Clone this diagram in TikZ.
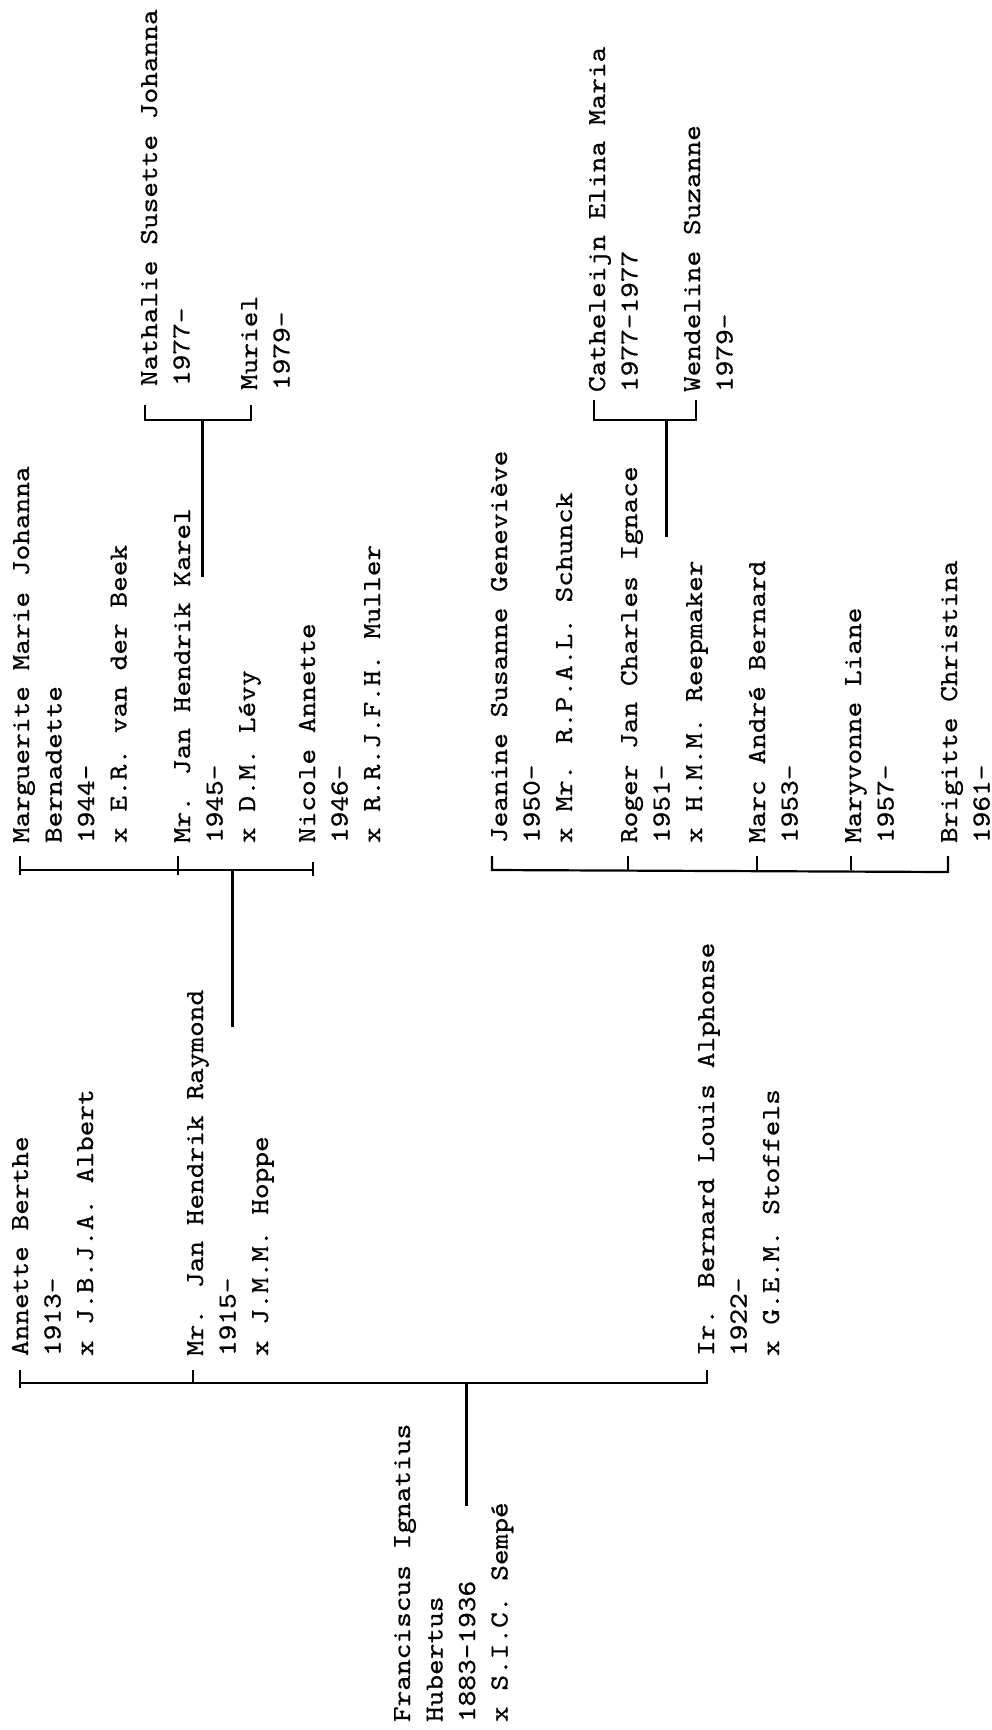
\documentclass[tikz,border=0pt]{standalone}
\usepackage{fontspec}
\newfontfamily\tw{lmmono10-regular.otf}[FakeStretch=1.15,FakeBold=0.6]
\newcommand\person[4]{%
  \foreach \t [count=\i from 0] in {#4} {\node[txt] (#1-\i) at ({#2+32.5*\i},#3) {\t};}}
\begin{document}
\begin{tikzpicture}[x=1pt,y=-1pt,
  txt/.style={rotate=90, anchor=base west, inner sep=0pt, outer sep=0pt, font=\tw\fontsize{26}{32}\selectfont},
  brk/.style={line width=2.2pt},
  stemline/.style={line width=3pt}]
\useasboundingbox (0,0) rectangle (992,1730);
\fill[white] (0,0) rectangle (992,1730);

% ---------- generation 1 ----------
\person{parent}{410}{1722}{Franciscus Ignatius,Hubertus,1883-1936,x S.I.C. Semp\'e}
\person{annette}{28}{1356}{Annette Berthe,1913-,x J.B.J.A. Albert}
\person{raymond}{203}{1356}{Mr. Jan Hendrik Raymond,1915-,x J.M.M. Hoppe}
\person{bernard}{714}{1356}{Ir. Bernard Louis Alphonse,1922-,x G.E.M. Stoffels}

\coordinate (a1t) at (20,1370);  \coordinate (a1) at (20,1383); \coordinate (a1e) at (20,1388);
\coordinate (r1t) at (193,1370); \coordinate (r1) at (193,1383);
\coordinate (b1t) at (707,1370); \coordinate (b1) at (707,1383);
\coordinate (s1a) at (466,1383); \coordinate (s1b) at (466,1506);
\draw[brk] (a1t) -- (a1e);
\draw[brk] (a1) -- (b1) -- (b1t);
\draw[brk] (r1t) -- (r1);
\draw[stemline] (s1a) -- (s1b);

% ---------- generation 2 (left) ----------
\person{marguerite}{29}{843}{Marguerite Marie Johanna,Bernadette,1944-,x E.R. van der Beek}
\person{karel}{190}{843}{Mr. Jan Hendrik Karel,1945-,x D.M. L\'evy}
\person{nicole}{315}{843}{Nicole Annette,1946-,x R.R.J.F.H. Muller}

\coordinate (m2t) at (20,856);  \coordinate (m2) at (20,870); \coordinate (m2e) at (20,875);
\coordinate (k2t) at (178,856); \coordinate (k2) at (178,870); \coordinate (k2e) at (178,875);
\coordinate (n2t) at (313,862); \coordinate (n2) at (313,870); \coordinate (n2e) at (313,876);
\coordinate (s2a) at (232,870); \coordinate (s2b) at (232,1027);
\draw[brk] (m2t) -- (m2e);
\draw[brk] (m2) -- (n2);
\draw[brk] (n2t) -- (n2e);
\draw[brk] (k2t) -- (k2e);
\draw[stemline] (s2a) -- (s2b);

% ---------- generation 2 (right) ----------
\person{jeanine}{507}{843}{Jeanine Susanne Genevi\`eve,1950-,x Mr. R.P.A.L. Schunck}
\person{roger}{637}{843}{Roger Jan Charles Ignace,1951-,x H.M.M. Reepmaker}
\person{marc}{765}{843}{Marc Andr\'e Bernard,1953-}
\person{maryvonne}{861}{843}{Maryvonne Liane,1957-}
\person{brigitte}{957}{843}{Brigitte Christina,1961-}

\coordinate (j2t) at (492,856); \coordinate (j2) at (492,870);
\coordinate (o2t) at (628,856); \coordinate (o2) at (628,870);
\coordinate (c2t) at (757,856); \coordinate (c2) at (757,870);
\coordinate (y2t) at (851,856); \coordinate (y2) at (851,870);
\coordinate (g2t) at (948,856); \coordinate (g2) at (948,872);
\draw[brk] (j2t) -- (j2) -- (g2) -- (g2t);
\draw[brk] (o2t) -- (o2);
\draw[brk] (c2t) -- (c2);
\draw[brk] (y2t) -- (y2);

% ---------- generation 3 (left) ----------
\person{nathalie}{157}{386}{Nathalie Susette Johanna,1977-}
\person{muriel}{257}{390}{Muriel,1979-}
\coordinate (na3t) at (145,405); \coordinate (na3) at (145,420);
\coordinate (mu3t) at (251,405); \coordinate (mu3) at (251,420);
\coordinate (s3a) at (202,420); \coordinate (s3b) at (202,577);
\draw[brk] (na3t) -- (na3) -- (mu3) -- (mu3t);
\draw[stemline] (s3a) -- (s3b);

% ---------- generation 3 (right) ----------
\person{catheleijn}{605}{392}{Catheleijn Elina Maria,1977-1977}
\person{wendeline}{700}{392}{Wendeline Suzanne,1979-}
\coordinate (ca3t) at (594,400); \coordinate (ca3) at (594,420);
\coordinate (we3t) at (696,400); \coordinate (we3) at (696,420);
\coordinate (s4a) at (666,420); \coordinate (s4b) at (666,537);
\draw[brk] (ca3t) -- (ca3) -- (we3) -- (we3t);
\draw[stemline] (s4a) -- (s4b);
\end{tikzpicture}
\end{document}
